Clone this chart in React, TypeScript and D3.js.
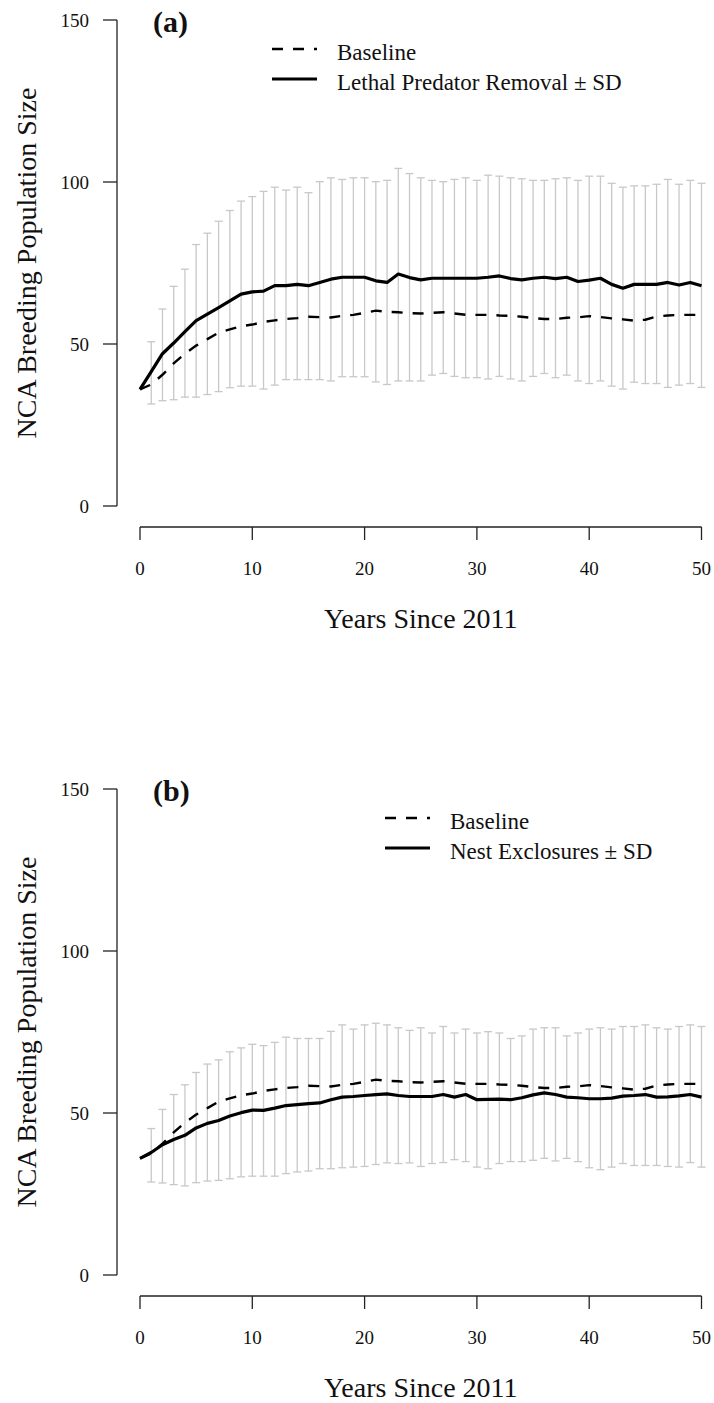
import { line as d3Line, scaleLinear } from "d3"

const years = [
  0, 1, 2, 3, 4, 5, 6, 7, 8, 9, 10, 11, 12, 13, 14, 15, 16, 17, 18, 19, 20, 21, 22, 23, 24, 25,
  26, 27, 28, 29, 30, 31, 32, 33, 34, 35, 36, 37, 38, 39, 40, 41, 42, 43, 44, 45, 46, 47, 48, 49, 50,
]
const xTicks = [0, 10, 20, 30, 40, 50]
const yTicks = [0, 50, 100, 150]

const baseline = [
  36, 37.5, 40.5, 44, 47, 49.5, 51.5, 53.5, 54.5, 55.5, 56, 56.8, 57.3, 57.7, 58, 58.4, 58.3, 58.2, 58.7, 59,
  59.6, 60.3, 59.9, 59.8, 59.5, 59.4, 59.6, 59.8, 59.4, 59, 59, 59, 58.8, 58.7, 58.4, 58, 57.7, 57.7, 58.1, 58.2,
  58.6, 58.3, 57.9, 57.6, 57.2, 57.5, 58.5, 58.8, 59, 59, 59,
]

const lethalMean = [
  36, 41.5, 47, 50.3, 53.8, 57.2, 59.2, 61.2, 63.3, 65.4, 66.1, 66.3, 68, 68, 68.4, 68, 69, 70, 70.6, 70.6,
  70.6, 69.5, 69, 71.6, 70.5, 69.8, 70.3, 70.3, 70.3, 70.3, 70.3, 70.6, 71, 70.2, 69.8, 70.3, 70.6, 70.2, 70.6, 69.3,
  69.7, 70.3, 68.4, 67.2, 68.4, 68.4, 68.4, 69, 68.2, 69, 68,
]
const lethalUpper = [
  null, 50.7, 60.8, 67.8, 73.1, 80.7, 84.2, 87.9, 91.2, 94.1, 95.5, 97.1, 98.4, 97.5, 98.4, 96.7, 100.1, 101.3, 100.8, 101.3,
  101.3, 100.1, 100.5, 104.2, 102.6, 101.3, 100.5, 100.1, 100.8, 101.3, 100.5, 102.1, 101.8, 101.3, 101, 100.5, 100.5, 101, 101.3, 100.5,
  101.8, 101.8, 99.6, 98.4, 98.8, 98.8, 99.3, 100.8, 99.3, 100.5, 99.6,
]
const lethalLower = [
  null, 31.5, 32.5, 32.8, 33.6, 33.6, 34.4, 35.3, 36.5, 37, 37, 36.1, 37.3, 39, 39, 39, 39, 38.6, 39.9, 39.9,
  39.9, 38.3, 37.5, 38.6, 38.6, 38.6, 40.4, 40.9, 40, 39.6, 39.6, 39.2, 40, 39.2, 38.6, 40, 40.9, 39.6, 40.4, 38.6,
  37.8, 38.6, 37, 36.1, 38.2, 37.8, 37.8, 36.6, 37.3, 37.8, 36.6,
]

const exclosureMean = [
  36, 37.8, 40.2, 41.8, 43.1, 45.4, 46.8, 47.7, 49.1, 50.1, 50.9, 50.8, 51.5, 52.3, 52.6, 52.9, 53.1, 54.1, 54.9, 55.1,
  55.4, 55.7, 55.9, 55.4, 55.1, 55.1, 55.1, 55.7, 54.9, 55.7, 54.1, 54.2, 54.3, 54.1, 54.7, 55.6, 56.2, 55.7, 54.9, 54.7,
  54.4, 54.4, 54.6, 55.2, 55.4, 55.7, 54.9, 55, 55.3, 55.7, 54.9,
]
const exclosureUpper = [
  null, 45.2, 51.1, 55.7, 58.7, 62.5, 65.1, 66.4, 68.9, 70.1, 71.2, 70.8, 71.8, 73.4, 73, 73, 73, 75.2, 77.2, 75.9,
  77.2, 77.7, 77.2, 76.3, 75.5, 76.3, 74.7, 76.7, 74.7, 75.9, 74.7, 75.1, 74.7, 73, 73.8, 75.9, 76.3, 76.3, 73.8, 74.7,
  75.9, 76.3, 75.9, 76.7, 76.7, 77.2, 76.3, 75.9, 76.7, 77.2, 76.7,
]
const exclosureLower = [
  null, 28.7, 28.4, 27.9, 27.5, 28.5, 29, 29.2, 29.7, 30.3, 30.5, 30.5, 30.5, 31.3, 31.8, 32.1, 32.8, 32.8, 33.1, 33.3,
  33.5, 34.1, 34.6, 34.4, 34.6, 33.5, 34.4, 34.7, 35.6, 35, 33.3, 32.8, 34.4, 35, 35, 35.4, 36, 35.2, 36, 35,
  33.1, 32.5, 33.3, 34.4, 33.8, 33.8, 33.8, 33.5, 33.3, 34.7, 33.3,
]

const FONT = "'Liberation Serif', 'Times New Roman', serif"
const AXIS = "#222"
const BAR = "#c8c8c8"

interface PanelProps {
  top: number
  tag: string
  legendX: number
  treatmentLabel: string
  mean: number[]
  upper: (number | null)[]
  lower: (number | null)[]
}

function Panel({ top, tag, legendX, treatmentLabel, mean, upper, lower }: PanelProps) {
  const x = scaleLinear().domain([0, 50]).range([140, 701.5])
  const y = scaleLinear().domain([0, 150]).range([top + 486, top])
  const axisX = 117
  const xAxisY = top + 507

  const path = d3Line<number>()
    .x((_, i) => x(years[i]))
    .y((d) => y(d))

  return (
    <g fontFamily={FONT} fill="#000">
      {/* error bars */}
      {years.map((yr, i) => {
        const hi = upper[i]
        const lo = lower[i]
        if (hi == null || lo == null) return null
        const cx = x(yr)
        return (
          <g key={yr} stroke={BAR} strokeWidth={1.3}>
            <line x1={cx} x2={cx} y1={y(hi)} y2={y(lo)} />
            <line x1={cx - 4} x2={cx + 4} y1={y(hi)} y2={y(hi)} />
            <line x1={cx - 4} x2={cx + 4} y1={y(lo)} y2={y(lo)} />
          </g>
        )
      })}

      <path d={path(baseline) ?? ""} fill="none" stroke="#000" strokeWidth={2.4} strokeDasharray="11 10" />
      <path d={path(mean) ?? ""} fill="none" stroke="#000" strokeWidth={3.2} strokeLinejoin="round" />

      {/* y axis */}
      <line x1={axisX} x2={axisX} y1={y(0)} y2={y(150)} stroke={AXIS} strokeWidth={1.3} />
      {yTicks.map((t) => (
        <g key={t}>
          <line x1={axisX - 14} x2={axisX} y1={y(t)} y2={y(t)} stroke={AXIS} strokeWidth={1.3} />
          <text x={89} y={y(t)} dy="0.35em" textAnchor="end" fontSize={19} fill="#111">{t}</text>
        </g>
      ))}
      <text
        transform={`translate(36,${(y(0) + y(150)) / 2}) rotate(-90)`}
        textAnchor="middle"
        fontSize={28}
        fill="#111"
      >
        NCA Breeding Population Size
      </text>

      {/* x axis */}
      <line x1={x(0)} x2={x(50)} y1={xAxisY} y2={xAxisY} stroke={AXIS} strokeWidth={1.3} />
      {xTicks.map((t) => (
        <g key={t}>
          <line x1={x(t)} x2={x(t)} y1={xAxisY} y2={xAxisY + 13} stroke={AXIS} strokeWidth={1.3} />
          <text x={x(t)} y={xAxisY + 48} textAnchor="middle" fontSize={19} fill="#111">{t}</text>
        </g>
      ))}
      <text x={(x(0) + x(50)) / 2} y={xAxisY + 101} textAnchor="middle" fontSize={28} fill="#111">
        Years Since 2011
      </text>

      {/* panel tag */}
      <text x={153} y={top + 12} fontSize={30} fontWeight="bold" fill="#111">{tag}</text>

      {/* legend */}
      <line x1={legendX} x2={legendX + 45} y1={top + 29} y2={top + 29} stroke="#000" strokeWidth={2.4} strokeDasharray="11 10" />
      <text x={legendX + 65} y={top + 32} dy="0.35em" fontSize={23} fill="#111">Baseline</text>
      <line x1={legendX} x2={legendX + 45} y1={top + 59} y2={top + 59} stroke="#000" strokeWidth={3.2} />
      <text x={legendX + 65} y={top + 62} dy="0.35em" fontSize={23} fill="#111">{treatmentLabel}</text>
    </g>
  )
}

export default function App() {
  return (
    <svg
      width={714}
      height={1403}
      viewBox="0 0 714 1403"
      style={{ position: "absolute", left: 0, top: 0, background: "#fff" }}
    >
      <rect width={714} height={1403} fill="#fff" />
      <Panel
        top={20}
        tag="(a)"
        legendX={272}
        treatmentLabel="Lethal Predator Removal ± SD"
        mean={lethalMean}
        upper={lethalUpper}
        lower={lethalLower}
      />
      <Panel
        top={789}
        tag="(b)"
        legendX={385}
        treatmentLabel="Nest Exclosures ± SD"
        mean={exclosureMean}
        upper={exclosureUpper}
        lower={exclosureLower}
      />
    </svg>
  )
}
